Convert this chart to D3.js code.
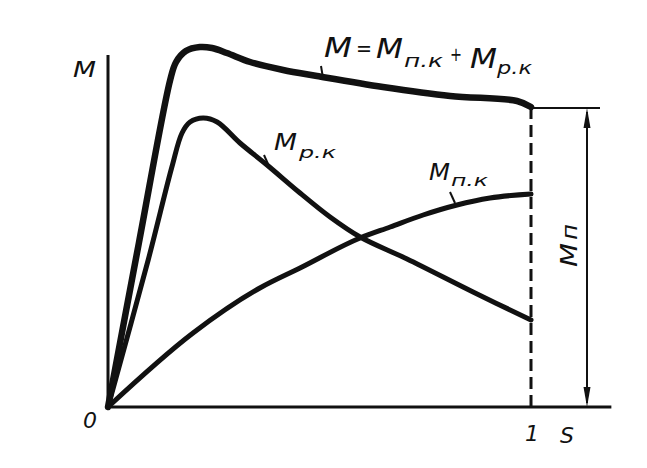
<!DOCTYPE html>
<html><head><meta charset="utf-8">
<script src="https://cdn.jsdelivr.net/npm/d3@7"></script>
<style>body{margin:0;background:#fff}svg{display:block}</style></head>
<body><svg id="c" width="647" height="468"></svg>
<script>
// Slip s (0..1) and torque M (arbitrary units)
const totalS = [0, 0.073, 0.147, 0.161, 0.184, 0.217, 0.246, 0.281, 0.336, 0.414, 0.494, 0.650, 0.809, 0.967, 1.0];
const totalM = [0, 164, 327, 345, 356, 360, 359, 354, 345, 337, 331, 320, 311, 306, 300];
const rkS = [0, 0.095, 0.151, 0.175, 0.194, 0.225, 0.258, 0.312, 0.376, 0.454, 0.525, 0.596, 0.707, 0.863, 1.0];
const rkM = [0, 147, 240, 274, 285, 289, 285, 264, 242, 214, 190, 170, 148, 115, 87];
const pkS = [0, 0.201, 0.359, 0.454, 0.596, 0.667, 0.745, 0.825, 0.903, 1.0];
const pkM = [0, 74, 119, 139, 169, 180, 192, 202, 209, 213];
const xTickLabels = ["0", "1"];

const svg = d3.select("#c");
const x = d3.scaleLinear().domain([0, 1]).range([108, 531]);
const y = d3.scaleLinear().domain([0, 360]).range([407, 47]);
const FONT = "'DejaVu Sans', sans-serif";

// axes
const yAxisTop = 352;   // top of M axis (data units)
const xAxisEnd = 1.19;  // end of s axis
svg.append("line").attr("x1", x(0)).attr("x2", x(0)).attr("y1", y(0) + 1).attr("y2", y(yAxisTop))
  .attr("stroke", "#111").attr("stroke-width", 3);
svg.append("line").attr("x1", x(0) - 2).attr("x2", x(xAxisEnd)).attr("y1", y(0)).attr("y2", y(0))
  .attr("stroke", "#111").attr("stroke-width", 3);

// dashed line at s = 1
const endTotal = totalM[totalM.length - 1];
svg.append("line").attr("x1", x(1)).attr("x2", x(1)).attr("y1", y(endTotal)).attr("y2", y(0))
  .attr("stroke", "#111").attr("stroke-width", 3).attr("stroke-dasharray", "12,6");

// dimension line for starting torque
const dimX = x(1) + 56;
const dimTop = y(endTotal) + 1;
svg.append("line").attr("x1", x(1)).attr("x2", x(1) + 69).attr("y1", dimTop).attr("y2", dimTop)
  .attr("stroke", "#111").attr("stroke-width", 2);
svg.append("line").attr("x1", dimX).attr("x2", dimX).attr("y1", dimTop + 4).attr("y2", y(0) - 4)
  .attr("stroke", "#111").attr("stroke-width", 2);
function arrow(tipY, dir) {
  const p = d3.path();
  p.moveTo(dimX, tipY);
  p.lineTo(dimX - 3.5, tipY + dir * 20);
  p.lineTo(dimX + 3.5, tipY + dir * 20);
  p.closePath();
  svg.append("path").attr("d", p.toString()).attr("fill", "#111");
}
arrow(dimTop, 1);
arrow(y(0), -1);

// curves
const lineCR = d3.line().x(d => x(d[0])).y(d => y(d[1])).curve(d3.curveCatmullRom.alpha(0.5));
const lineMono = d3.line().x(d => x(d[0])).y(d => y(d[1])).curve(d3.curveMonotoneX);
function curve(S, M, w, gen) {
  svg.append("path").datum(S.map((s, i) => [s, M[i]])).attr("d", gen)
    .attr("fill", "none").attr("stroke", "#111").attr("stroke-width", w)
    .attr("stroke-linejoin", "round").attr("stroke-linecap", "round");
}
curve(pkS, pkM, 5, lineMono);
curve(rkS, rkM, 5, lineCR);
curve(totalS, totalM, 6.5, lineCR);

// leader ticks
function tick(x1, y1, x2, y2) {
  svg.append("line").attr("x1", x1).attr("y1", y1).attr("x2", x2).attr("y2", y2)
    .attr("stroke", "#111").attr("stroke-width", 2);
}
tick(321, 66, 323, 78);
tick(264, 155, 268, 164);
tick(450, 192, 455, 203);

// text helper (width forced to match the hand lettering)
function txt(xp, yp, s, size, w, parent) {
  const t = (parent || svg).append("text").attr("x", xp).attr("y", yp).text(s)
    .attr("font-family", FONT).attr("font-size", size)
    .attr("font-style", "italic").attr("fill", "#111");
  if (w) t.attr("textLength", w).attr("lengthAdjust", "spacingAndGlyphs");
  return t;
}

// axis labels
txt(73, 77, "M", 22, 23);
txt(83, 428, xTickLabels[0], 22);
txt(x(1) - 6, 441, xTickLabels[1], 22);
txt(560, 443, "S", 22);

// formula
txt(324, 57, "M", 26, 28);
txt(356, 56, "=", 22, 16);
txt(376, 58, "M", 26, 27);
txt(404, 67, "п.к", 17, 39);
txt(450, 61, "+", 20, 12);
txt(470, 68, "M", 26, 27);
txt(497, 74, "р.к", 17, 35);

// curve labels
txt(274, 150, "M", 23, 23);
txt(299, 158, "р.к", 16, 37);
txt(429, 180, "M", 23, 21);
txt(451, 186, "п.к", 16, 37);

// rotated Mп label
const g = svg.append("g").attr("transform", "translate(577,267) rotate(-90)");
txt(0, 0, "M", 23, 24, g);
txt(27, 0, "п", 21, 16, g);
</script>
</body></html>
